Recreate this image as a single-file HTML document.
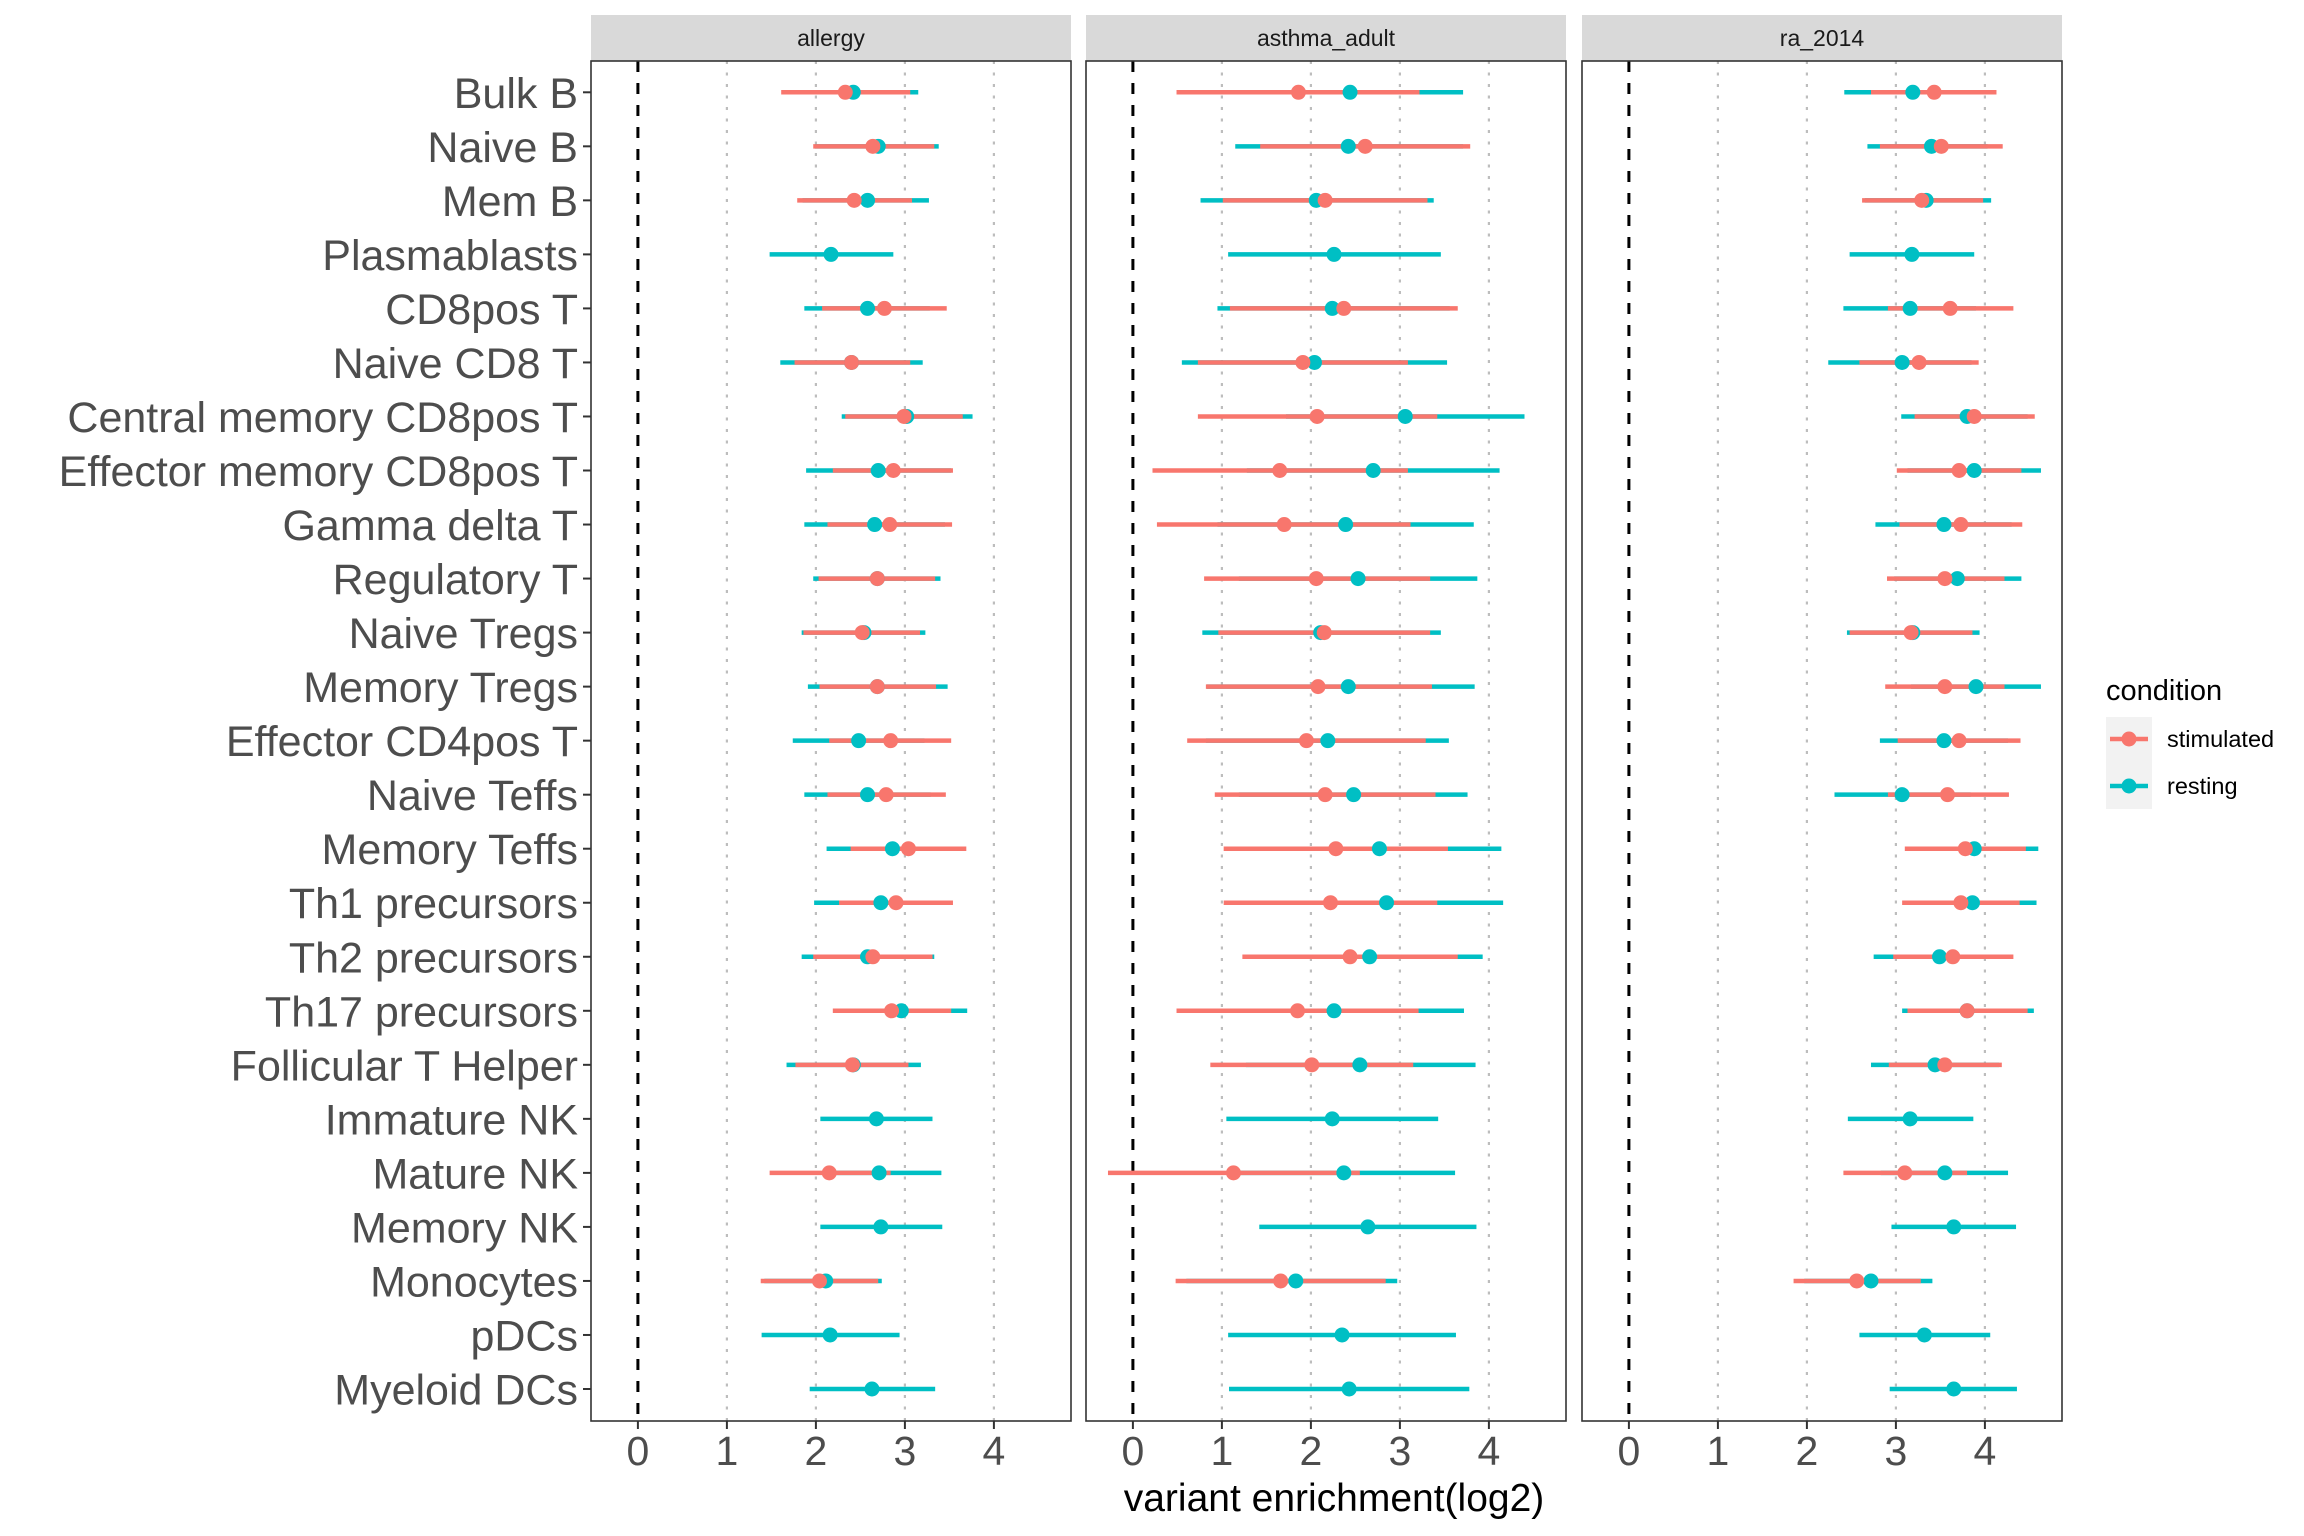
<!DOCTYPE html>
<html><head><meta charset="utf-8"><style>
html,body{margin:0;padding:0;background:#fff;}
svg{display:block;font-family:"Liberation Sans",Arial,sans-serif;}
</style></head><body>
<svg id="chart" width="2304" height="1536" viewBox="0 0 2304 1536" xmlns="http://www.w3.org/2000/svg"></svg>
<script>
const categories = ["Bulk B","Naive B","Mem B","Plasmablasts","CD8pos T","Naive CD8 T","Central memory CD8pos T","Effector memory CD8pos T","Gamma delta T","Regulatory T","Naive Tregs","Memory Tregs","Effector CD4pos T","Naive Teffs","Memory Teffs","Th1 precursors","Th2 precursors","Th17 precursors","Follicular T Helper","Immature NK","Mature NK","Memory NK","Monocytes","pDCs","Myeloid DCs"];
const panels = ["allergy","asthma_adult","ra_2014"];
const xTicks = [0,1,2,3,4];
// allergy
const allergyStimEst = [2.33,2.64,2.43,null,2.77,2.40,2.99,2.87,2.83,2.69,2.52,2.69,2.84,2.79,3.04,2.90,2.64,2.85,2.41,null,2.15,null,2.04,null,null];
const allergyStimLo  = [1.61,1.97,1.79,null,2.07,1.76,2.33,2.19,2.13,2.03,1.86,2.04,2.15,2.13,2.39,2.26,1.97,2.19,1.77,null,1.48,null,1.38,null,null];
const allergyStimHi  = [3.06,3.33,3.08,null,3.47,3.06,3.65,3.54,3.53,3.34,3.17,3.35,3.52,3.46,3.69,3.54,3.31,3.52,3.04,null,2.84,null,2.70,null,null];
const allergyRestEst = [2.42,2.70,2.58,2.17,2.58,2.40,3.02,2.70,2.66,2.69,2.54,2.69,2.48,2.58,2.86,2.73,2.58,2.96,2.42,2.68,2.71,2.73,2.11,2.16,2.63];
const allergyRestLo  = [1.65,1.99,1.85,1.48,1.87,1.60,2.29,1.89,1.87,1.97,1.84,1.91,1.74,1.87,2.12,1.98,1.84,2.20,1.67,2.05,2.09,2.05,1.42,1.39,1.93];
const allergyRestHi  = [3.15,3.38,3.27,2.87,3.28,3.20,3.76,3.52,3.45,3.40,3.23,3.48,3.22,3.29,3.61,3.48,3.33,3.70,3.18,3.31,3.41,3.42,2.74,2.94,3.34];
// asthma_adult
const asthmaStimEst = [1.86,2.61,2.16,null,2.37,1.91,2.07,1.65,1.70,2.06,2.15,2.08,1.95,2.16,2.28,2.22,2.44,1.85,2.01,null,1.13,null,1.66,null,null];
const asthmaStimLo  = [0.49,1.43,1.01,null,1.09,0.73,0.73,0.22,0.27,0.80,0.96,0.82,0.61,0.92,1.02,1.02,1.23,0.49,0.87,null,-0.28,null,0.48,null,null];
const asthmaStimHi  = [3.22,3.79,3.31,null,3.65,3.09,3.42,3.09,3.12,3.34,3.34,3.36,3.29,3.40,3.54,3.42,3.65,3.21,3.15,null,2.55,null,2.84,null,null];
const asthmaRestEst = [2.44,2.42,2.06,2.26,2.24,2.04,3.06,2.70,2.39,2.53,2.11,2.42,2.19,2.48,2.77,2.85,2.66,2.26,2.55,2.24,2.37,2.64,1.83,2.35,2.43];
const asthmaRestLo  = [1.16,1.15,0.76,1.07,0.95,0.55,1.72,1.28,0.95,1.19,0.78,0.83,0.82,1.19,1.41,1.53,1.37,0.81,1.27,1.05,1.10,1.42,0.60,1.07,1.08];
const asthmaRestHi  = [3.71,3.71,3.38,3.46,3.56,3.53,4.40,4.12,3.83,3.87,3.46,3.84,3.55,3.76,4.14,4.16,3.93,3.72,3.85,3.43,3.62,3.86,2.97,3.63,3.78];
// ra_2014
const raStimEst = [3.43,3.51,3.29,null,3.61,3.26,3.88,3.71,3.73,3.55,3.17,3.55,3.71,3.58,3.78,3.73,3.64,3.80,3.55,null,3.10,null,2.56,null,null];
const raStimLo  = [2.72,2.82,2.62,null,2.91,2.59,3.21,3.01,3.04,2.90,2.48,2.88,3.02,2.91,3.10,3.07,2.97,3.13,2.92,null,2.41,null,1.85,null,null];
const raStimHi  = [4.13,4.20,3.98,null,4.32,3.93,4.56,4.41,4.42,4.22,3.86,4.22,4.40,4.27,4.46,4.39,4.32,4.48,4.19,null,3.80,null,3.28,null,null];
const raRestEst = [3.19,3.40,3.34,3.18,3.16,3.07,3.80,3.88,3.54,3.69,3.19,3.90,3.54,3.07,3.88,3.86,3.49,3.80,3.44,3.16,3.55,3.65,2.72,3.32,3.65];
const raRestLo  = [2.42,2.68,2.65,2.48,2.41,2.24,3.06,3.13,2.77,2.98,2.45,3.17,2.82,2.31,3.13,3.11,2.75,3.07,2.72,2.46,2.83,2.95,1.97,2.59,2.93];
const raRestHi  = [3.96,4.03,4.07,3.88,3.90,3.85,4.48,4.63,4.30,4.41,3.94,4.63,4.26,3.84,4.60,4.58,4.24,4.55,4.16,3.87,4.26,4.35,3.41,4.06,4.36];

const stimArrays = [[allergyStimEst,allergyStimLo,allergyStimHi],[asthmaStimEst,asthmaStimLo,asthmaStimHi],[raStimEst,raStimLo,raStimHi]];
const restArrays = [[allergyRestEst,allergyRestLo,allergyRestHi],[asthmaRestEst,asthmaRestLo,asthmaRestHi],[raRestEst,raRestLo,raRestHi]];

const NS="http://www.w3.org/2000/svg";
const svg=document.getElementById('chart');
const STIM="#F8766D", REST="#00BFC4";
const panelLeft=[591,1086,1582], panelW=480, panelTop=61, panelBot=1421;
const xMin=-0.527, unit=89;
function xScale(p,v){return panelLeft[p]+(v-xMin)*unit;}
const rowStep=(1389-92.3)/24;
function yScale(i){return 92.3+i*rowStep;}
function mk(tag,attrs,parent){const e=document.createElementNS(NS,tag);for(const k in attrs)e.setAttribute(k,attrs[k]);(parent||svg).appendChild(e);return e;}

for(let p=0;p<3;p++){
  const g=mk('g',{});
  
  
  const strip=mk('rect',{x:panelLeft[p],y:15,width:panelW,height:46,fill:'#d9d9d9'},g);
  
  
  const st=mk('text',{x:panelLeft[p]+panelW/2,y:46,'text-anchor':'middle','font-size':23,fill:'#1a1a1a'},g);
  st.textContent=panels[p];
  
  
  for(const t of xTicks){
    const x=xScale(p,t);
    if(t===0){
      const l=mk('line',{x1:x,y1:panelTop,x2:x,y2:panelBot,stroke:'#000','stroke-width':3,'stroke-dasharray':'11 11'},g);
      
      
    } else {
      const l=mk('line',{x1:x,y1:panelTop,x2:x,y2:panelBot,stroke:'#bdbdbd','stroke-width':2.2,'stroke-dasharray':'3 8.5'},g);
      
      
    }
    const tk=mk('line',{x1:x,y1:panelBot,x2:x,y2:panelBot+8,stroke:'#333','stroke-width':2},g);
    
    
    const tl=mk('text',{x:x,y:1465,'text-anchor':'middle','font-size':41,fill:'#4d4d4d'},g);
    tl.textContent=String(t);
    
    
  }
  const [rE,rL,rH]=restArrays[p], [sE,sL,sH]=stimArrays[p];
  for(let i=0;i<categories.length;i++){
    const y=yScale(i);
    if(rE[i]!==null){
      const l=mk('line',{x1:xScale(p,rL[i]),y1:y,x2:xScale(p,rH[i]),y2:y,stroke:REST,'stroke-width':4.5},g);
      
      
    }
    if(sE[i]!==null){
      const l=mk('line',{x1:xScale(p,sL[i]),y1:y,x2:xScale(p,sH[i]),y2:y,stroke:STIM,'stroke-width':4.5},g);
      
      
    }
  }
  for(let i=0;i<categories.length;i++){
    const y=yScale(i);
    if(rE[i]!==null){
      const c=mk('circle',{cx:xScale(p,rE[i]),cy:y,r:7.5,fill:REST},g);
      
      
    }
    if(sE[i]!==null){
      const c=mk('circle',{cx:xScale(p,sE[i]),cy:y,r:7.5,fill:STIM},g);
      
      
    }
  }
  const b=mk('rect',{x:panelLeft[p],y:panelTop,width:panelW,height:panelBot-panelTop,fill:'none',stroke:'#333','stroke-width':1.6},g);
  
  
}
for(let i=0;i<categories.length;i++){
  const y=yScale(i);
  const tk=mk('line',{x1:583,y1:y,x2:591,y2:y,stroke:'#333','stroke-width':2});
  
  
  const t=mk('text',{x:578,y:y+15.5,'text-anchor':'end','font-size':43,fill:'#4d4d4d'});
  t.textContent=categories[i];
  
  
}
const at=mk('text',{x:1334,y:1511,'text-anchor':'middle','font-size':39,fill:'#000'});
at.textContent='variant enrichment(log2)';



const lg=mk('g',{});


const lt=mk('text',{x:2106,y:700,'font-size':29,fill:'#000'},lg);
lt.textContent='condition';


const kb=mk('rect',{x:2106,y:717,width:46,height:92,fill:'#f2f2f2'},lg);


const legendItems=[["stimulated",STIM,739],["resting",REST,786]];
for(const [name,col,y] of legendItems){
  const e=mk('g',{},lg);
  
  
  mk('line',{x1:2110,y1:y,x2:2148,y2:y,stroke:col,'stroke-width':4.5},e);
  mk('circle',{cx:2129,cy:y,r:7.5,fill:col},e);
  const t=mk('text',{x:2167,y:y+8,'font-size':23.5,fill:'#000'},e);
  t.textContent=name;
}
</script>
</body></html>
